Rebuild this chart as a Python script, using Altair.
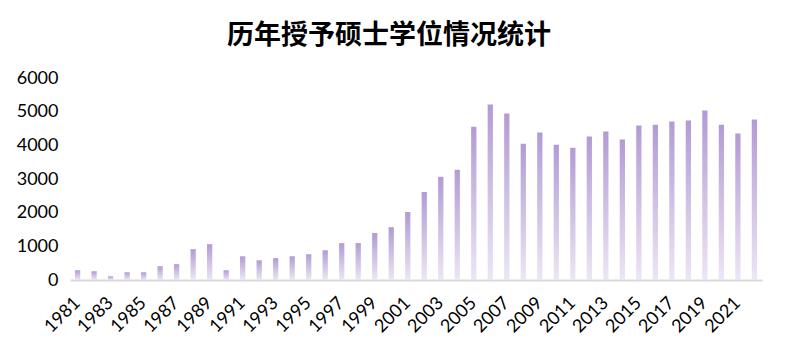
import altair as alt
import pandas as pd

years = [str(y) for y in range(1981, 2023)]
values = [290, 260, 110, 230, 230, 410, 470, 915, 1065, 290,
          705, 585, 650, 705, 765, 885, 1095, 1095, 1395, 1570,
          2020, 2615, 3065, 3275, 4555, 5215, 4945, 4050, 4380, 4020,
          3930, 4260, 4410, 4170, 4590, 4615, 4705, 4735, 5035, 4615,
          4350, 4765]
tick_labels = years[::2]

df = pd.DataFrame({"year": years, "value": values})

grad = alt.Gradient(
    gradient="linear",
    stops=[alt.GradientStop(color="#ece6f4", offset=0),
           alt.GradientStop(color="#b29bd5", offset=1)],
    x1=0, x2=0, y1=1, y2=0,
)

chart = alt.Chart(df).mark_bar(color=grad).encode(
    x=alt.X("year:N", sort=years,
            scale=alt.Scale(paddingInner=0.68, paddingOuter=0.3),
            axis=alt.Axis(title=None, values=tick_labels, labelAngle=-45,
                          labelFont="Lato", labelFontSize=18, labelColor="#000000",
                          ticks=False, domainColor="#d9d9d9", domainWidth=2,
                          labelPadding=20, labelAlign="right", labelBaseline="middle")),
    y=alt.Y("value:Q",
            scale=alt.Scale(domain=[0, 6000]),
            axis=alt.Axis(title=None, values=[0, 1000, 2000, 3000, 4000, 5000, 6000],
                          format="d",
                          grid=False, domain=False, ticks=False,
                          labelFont="Lato", labelFontSize=18, labelColor="#000000",
                          labelPadding=12)),
).properties(
    width=692, height=202,
    autosize=alt.AutoSizeParams(type="none"),
    padding={"left": 62, "top": 70, "right": 8, "bottom": 60},
    title=alt.TitleParams("历年授予硕士学位情况统计", font="Noto Sans CJK SC",
                          fontSize=27, fontWeight="bold", color="#000000",
                          anchor="middle", frame="bounds", offset=19),
).configure(background="#ffffff").configure_view(strokeWidth=0, stroke="transparent")

chart.save("out.html", embed_options={"renderer": "svg", "actions": False})
